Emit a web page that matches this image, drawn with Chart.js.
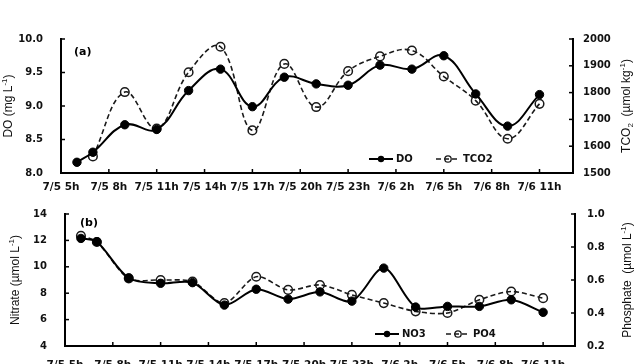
<!DOCTYPE html>
<html>
<head>
<meta charset="utf-8">
<script src="https://cdn.jsdelivr.net/npm/chart.js@4.4.1/dist/chart.umd.min.js"></script>
<style>
  html, body { margin: 0; padding: 0; background: #fff; width: 641px; height: 364px; overflow: hidden; }
  .box { position: absolute; left: 0; width: 641px; }
  #boxA { top: 0; height: 200px; }
  #boxB { top: 190px; height: 180px; }
</style>
</head>
<body>
<div class="box" id="boxA"><canvas id="chartA" width="641" height="200"></canvas></div>
<div class="box" id="boxB"><canvas id="chartB" width="641" height="180"></canvas></div>
<script>
// x軸ラベル（3時間ごと, 7/5 5h からの経過時間）
const timeLabels = ['7/5 5h', '7/5 8h', '7/5 11h', '7/5 14h', '7/5 17h', '7/5 20h', '7/5 23h', '7/6 2h', '7/6 5h', '7/6 8h', '7/6 11h'];
const tickHours = [0, 3, 6, 9, 12, 15, 18, 21, 24, 27, 30];

// (a) DO / TCO2
const doHours = [1, 2, 4, 6, 8, 10, 12, 14, 16, 18, 20, 22, 24, 26, 28, 30];
const doValues = [8.16, 8.31, 8.72, 8.65, 9.23, 9.55, 8.99, 9.43, 9.33, 9.31, 9.61, 9.55, 9.75, 9.18, 8.70, 9.17];
const tco2Hours = [2, 4, 6, 8, 10, 12, 14, 16, 18, 20, 22, 24, 26, 28, 30];
const tco2Values = [1562, 1802, 1666, 1876, 1971, 1659, 1907, 1746, 1880, 1935, 1957, 1860, 1770, 1628, 1758];

// (b) NO3 / PO4
const nutHours = [1, 2, 4, 6, 8, 10, 12, 14, 16, 18, 20, 22, 24, 26, 28, 30];
const no3Values = [12.15, 11.9, 9.15, 8.75, 8.8, 7.1, 8.3, 7.55, 8.1, 7.4, 9.9, 6.95, 7.0, 7.0, 7.5, 6.55];
const po4Values = [0.868, 0.83, 0.61, 0.60, 0.59, 0.46, 0.62, 0.54, 0.57, 0.51, 0.46, 0.41, 0.40, 0.48, 0.53, 0.49];

const tickFont = { family: 'DejaVu Sans', size: 10, weight: 'bold' };
const xFont = { family: 'DejaVu Sans', size: 10.5, weight: 'bold' };
const titleFamily = '"Liberation Sans", Arial, sans-serif';

function toPoints(xs, ys) {
  return xs.map((x, i) => ({ x: x, y: ys[i] }));
}

// 上付き・下付きを含む縦書きタイトル
function drawRichText(ctx, parts, cx, cy, size) {
  ctx.save();
  ctx.translate(cx, cy);
  ctx.rotate(-Math.PI / 2);
  ctx.textBaseline = 'middle';
  ctx.textAlign = 'left';
  ctx.fillStyle = '#111';
  const fonts = parts.map(p => ((p.sup || p.sub) ? Math.round(size * 0.65) : size) + 'px ' + titleFamily);
  let total = 0;
  const widths = parts.map((p, i) => {
    ctx.font = fonts[i];
    const w = ctx.measureText(p.t).width;
    total += w;
    return w;
  });
  let x = -total / 2;
  parts.forEach((p, i) => {
    ctx.font = fonts[i];
    const dy = p.sup ? -size * 0.33 : (p.sub ? size * 0.28 : 0);
    ctx.fillText(p.t, x, dy);
    x += widths[i];
  });
  ctx.restore();
}

// 内向き目盛り・軸タイトル・パネル記号・凡例
function makePaperPlugin(cfg) {
  return {
    id: 'paper',
    afterDraw(chart) {
      const ctx = chart.ctx;
      const area = chart.chartArea;
      ctx.save();
      ctx.strokeStyle = '#000';
      ctx.lineWidth = 1.5;
      Object.values(chart.scales).forEach(scale => {
        scale.ticks.forEach(t => {
          const p = scale.getPixelForValue(t.value);
          ctx.beginPath();
          if (scale.axis === 'x') {
            if (t.value === scale.min) return;
            ctx.moveTo(p, area.bottom);
            ctx.lineTo(p, area.bottom - 4);
          } else if (scale.position === 'left') {
            ctx.moveTo(area.left, p);
            ctx.lineTo(area.left + 4, p);
          } else {
            ctx.moveTo(area.right, p);
            ctx.lineTo(area.right - 4, p);
          }
          ctx.stroke();
        });
      });
      ctx.restore();

      const midY = (area.top + area.bottom) / 2;
      drawRichText(ctx, cfg.leftTitle, cfg.leftTitleX, midY, 12);
      drawRichText(ctx, cfg.rightTitle, cfg.rightTitleX, midY, 12);

      // パネル記号
      ctx.save();
      ctx.font = 'bold 11px "DejaVu Sans"';
      ctx.fillStyle = '#000';
      ctx.textBaseline = 'middle';
      ctx.fillText(cfg.panel, area.left + cfg.panelDx, area.top + cfg.panelDy);
      ctx.restore();

      // 凡例
      ctx.save();
      chart.data.datasets.forEach((ds, i) => {
        const x0 = cfg.legendX[i];
        const y0 = cfg.legendY;
        ctx.strokeStyle = ds.borderColor;
        ctx.lineWidth = ds.borderWidth;
        ctx.setLineDash(ds.borderDash || []);
        ctx.beginPath();
        ctx.moveTo(x0, y0);
        ctx.lineTo(x0 + 24, y0);
        ctx.stroke();
        ctx.setLineDash([]);
        ctx.beginPath();
        ctx.arc(x0 + 12, y0, 3.2, 0, Math.PI * 2);
        if (ds.pointBackgroundColor !== 'rgba(0,0,0,0)') {
          ctx.fillStyle = ds.pointBackgroundColor;
          ctx.fill();
        } else {
          ctx.lineWidth = 1.3;
          ctx.stroke();
        }
        ctx.font = 'bold 10px "DejaVu Sans"';
        ctx.fillStyle = '#111';
        ctx.textBaseline = 'middle';
        ctx.fillText(ds.label, x0 + 27, y0 + 0.5);
      });
      ctx.restore();
    }
  };
}

function xScale(max, height, padding) {
  return {
    type: 'linear',
    min: 0,
    max: max,
    afterBuildTicks: s => { s.ticks = tickHours.map(v => ({ value: v })); },
    afterFit: s => { s.height = height; },
    ticks: {
      autoSkip: false,
      maxRotation: 0,
      padding: padding,
      color: '#111',
      font: xFont,
      callback: (v, i) => timeLabels[i]
    },
    grid: { display: false, drawTicks: false },
    border: { color: '#000', width: 2 }
  };
}

function yScale(position, min, max, step, decimals, width, padding) {
  return {
    position: position,
    min: min,
    max: max,
    afterFit: s => { s.width = width; },
    ticks: {
      stepSize: step,
      padding: padding,
      color: '#111',
      font: tickFont,
      callback: v => Number(v).toFixed(decimals)
    },
    grid: { display: false, drawTicks: false },
    border: { color: '#000', width: 2 }
  };
}

const solidStyle = {
  borderColor: '#000',
  borderWidth: 2,
  pointRadius: 4.2,
  pointBackgroundColor: '#000',
  pointBorderColor: '#000',
  pointBorderWidth: 1
};
const dashStyle = {
  borderColor: '#1a1a1a',
  borderWidth: 1.6,
  borderDash: [5, 3],
  pointRadius: 4.3,
  pointBackgroundColor: 'rgba(0,0,0,0)',
  pointBorderColor: '#1a1a1a',
  pointBorderWidth: 1.5
};

// (a) DO と TCO2
new Chart(document.getElementById('chartA'), {
  type: 'line',
  data: {
    datasets: [
      Object.assign({ label: 'DO', data: toPoints(doHours, doValues), yAxisID: 'y', tension: 0.4 }, solidStyle),
      Object.assign({ label: 'TCO2', data: toPoints(tco2Hours, tco2Values), yAxisID: 'y2', tension: 0.4 }, dashStyle)
    ]
  },
  options: {
    responsive: false,
    animation: false,
    layout: { padding: { top: 39, left: 0, right: 0, bottom: 0 } },
    plugins: { legend: { display: false }, tooltip: { enabled: false } },
    scales: {
      x: xScale(32.1, 27, 8),
      y: yScale('left', 8, 10, 0.5, 1, 61, 18),
      y2: yScale('right', 1500, 2000, 100, 0, 68, 10)
    }
  },
  plugins: [makePaperPlugin({
    leftTitle: [{ t: 'DO (mg L' }, { t: '-1', sup: true }, { t: ')' }],
    leftTitleX: 8.5,
    rightTitle: [{ t: 'TCO' }, { t: '2', sub: true }, { t: '  (\u00b5mol kg' }, { t: '-1', sup: true }, { t: ')' }],
    rightTitleX: 627,
    panel: '(a)',
    panelDx: 13,
    panelDy: 13,
    legendX: [369, 436],
    legendY: 159
  })]
});

// (b) NO3 と PO4
new Chart(document.getElementById('chartB'), {
  type: 'line',
  data: {
    datasets: [
      Object.assign({ label: 'NO3', data: toPoints(nutHours, no3Values), yAxisID: 'y', tension: 0.3 }, solidStyle),
      Object.assign({ label: 'PO4', data: toPoints(nutHours, po4Values), yAxisID: 'y2', tension: 0.3 }, dashStyle)
    ]
  },
  options: {
    responsive: false,
    animation: false,
    layout: { padding: { top: 22, left: 0, right: 0, bottom: 0 } },
    plugins: { legend: { display: false }, tooltip: { enabled: false } },
    scales: {
      x: xScale(32, 24, 13),
      y: yScale('left', 4, 14, 2, 0, 65, 18),
      y2: yScale('right', 0.2, 1.0, 0.2, 1, 66, 12)
    }
  },
  plugins: [makePaperPlugin({
    leftTitle: [{ t: 'Nitrate (\u00b5mol L' }, { t: '-1', sup: true }, { t: ')' }],
    leftTitleX: 15.5,
    rightTitle: [{ t: 'Phosphate  (\u00b5mol L' }, { t: '-1', sup: true }, { t: ')' }],
    rightTitleX: 628,
    panel: '(b)',
    panelDx: 15,
    panelDy: 9,
    legendX: [375, 446],
    legendY: 144
  })]
});
</script>
</body>
</html>
